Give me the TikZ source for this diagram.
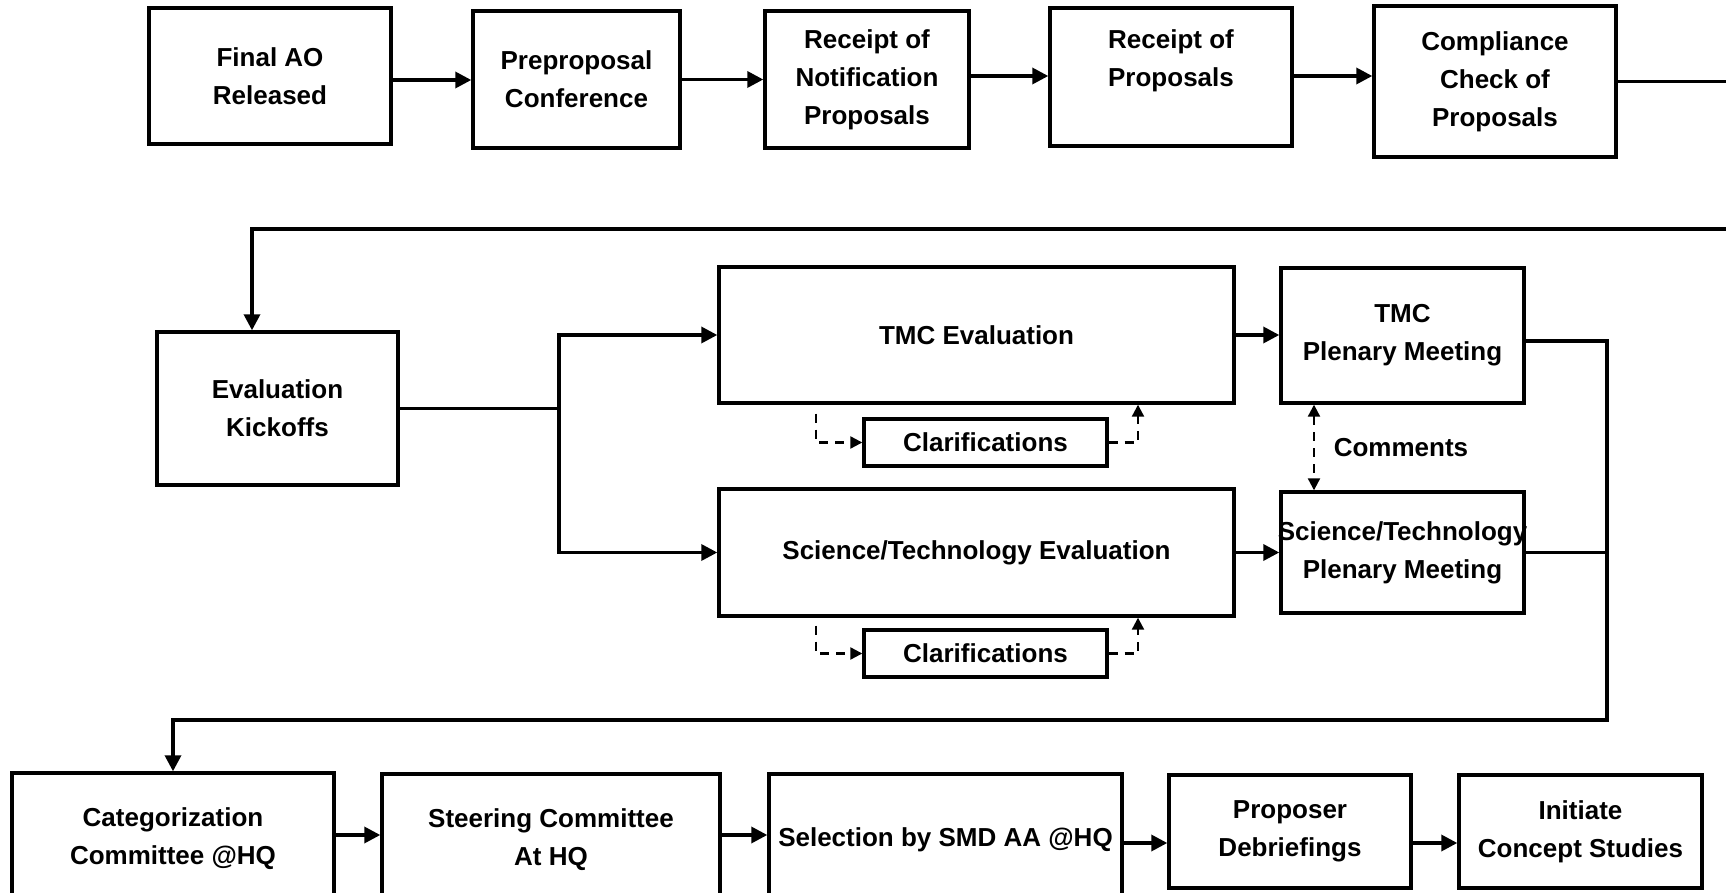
\documentclass[tikz,border=0pt]{standalone}
\usepackage{fontspec}
\setmainfont{Liberation Sans}
\usetikzlibrary{arrows.meta,calc}
\begin{document}
\begin{tikzpicture}[x=0.5pt,y=-0.5pt,
  box/.style={draw, line width=1.7pt, inner sep=0pt, align=center, font=\fontsize{13}{19}\selectfont\bfseries},
  arr/.style={line width=1.7pt, -{Triangle[length=8pt,width=8pt]}},
  ln/.style={line width=1.7pt},
  darr/.style={line width=1.1pt, dash pattern=on 4.5pt off 3.5pt, >={Triangle[length=6pt,width=6pt]}},
  lbl/.style={font=\fontsize{13}{19}\selectfont\bfseries}]
\useasboundingbox (0,0) rectangle (1726,893);
\clip (0,0) rectangle (1726,893);

% Row 1
\node[box, minimum width=121pt, minimum height=68pt] (fao) at (270,76) {Final AO\\Released};
\node[box, minimum width=103.5pt, minimum height=68.5pt] (pre) at (576.5,79.5) {Preproposal\\Conference};
\node[box, minimum width=102pt, minimum height=68.5pt] (rnp) at (867,79.5) {Receipt of\\Notification\\Proposals};
\node[box, minimum width=121pt, minimum height=69pt] (rp) at (1171,77) {Receipt of\\Proposals\\\mbox{}};
\node[box, minimum width=121pt, minimum height=75.5pt] (cc) at (1495,81.5) {Compliance\\Check of\\Proposals};

% Row 2
\node[box, minimum width=120.5pt, minimum height=76.5pt] (kick) at (277.5,408.5) {Evaluation\\Kickoffs};
\node[box, minimum width=257.5pt, minimum height=68pt] (tmce) at (976.5,335) {TMC Evaluation};
\node[box, minimum width=257.5pt, minimum height=63.5pt] (stie) at (976.5,552.5) {Science/Technology Evaluation};
\node[box, minimum width=121.5pt, minimum height=67.5pt] (tmcp) at (1402.5,335.5) {TMC\\Plenary Meeting};
\node[box, minimum width=121.5pt, minimum height=60.5pt] (stp) at (1402.5,552.5) {\makebox[100pt]{Science/Technology}\\Plenary Meeting};
\node[box, minimum width=121.5pt, minimum height=23.5pt] (cl1) at (985.5,442.5) {Clarifications};
\node[box, minimum width=121.5pt, minimum height=23.5pt] (cl2) at (985.5,653.5) {Clarifications};
\node[lbl] (cm) at (1401,448) {Comments};

% Row 3
\node[box, minimum width=161pt, minimum height=66pt] (cat) at (173,839) {Categorization\\Committee @HQ};
\node[box, minimum width=169pt, minimum height=65.5pt] (steer) at (551,839.5) {Steering Committee\\At HQ};
\node[box, minimum width=176.5pt, minimum height=65.5pt] (sel) at (945.5,839.5) {Selection by SMD AA @HQ};
\node[box, minimum width=121pt, minimum height=56.5pt] (prop) at (1290,831.5) {Proposer\\Debriefings};
\node[box, minimum width=121.5pt, minimum height=56.5pt] (init) at (1580.5,831.5) {Initiate\\Concept Studies};

% Row 1 connectors
\draw[arr] ($(fao.east)+(0,4)$) -- ($(fao.east -| pre.west)+(0,4)$);
\draw[arr] (pre.east) -- (pre.east -| rnp.west);
\draw[arr] ($(rnp.east)+(0,-3.5)$) -- ($(rnp.east -| rp.west)+(0,-3.5)$);
\draw[arr] ($(rp.east)+(0,-1)$) -- ($(rp.east -| cc.west)+(0,-1)$);
\coordinate (outR) at (1726,82);
\draw[ln] (cc.east) -- (cc.east -| outR);
\coordinate (inR) at (1726,229);
\draw[arr] (inR) -| ($(kick.north)+(-25.5,0)$);

% Row 2 connectors
\coordinate (br) at (559,408.5);
\draw[ln] (kick.east) -- (br);
\draw[arr] (br) |- (tmce.west);
\draw[arr] (br) |- (stie.west);
\draw[arr] (tmce.east) -- (tmce.east -| tmcp.west);
\draw[arr] (stie.east) -- (stie.east -| stp.west);
\draw[darr,<->] ($(tmcp.south)+(-88.5,0)$) -- ($(stp.north)+(-88.5,0)$);
\draw[darr,->] ($(tmce.south)+(-160.5,9)$) |- (cl1.west);
\draw[darr,->] (cl1.east) -| ($(tmce.south)+(161.5,0)$);
\draw[darr,->] ($(stie.south)+(-160.5,8)$) |- (cl2.west);
\draw[darr,->] (cl2.east) -| ($(stie.south)+(161.5,0)$);

% loop down to row 3
\coordinate (rc) at (1607,720);
\draw[arr] ($(tmcp.east)+(0,5.5)$) -| (rc) -| (cat.north);
\draw[ln] (stp.east) -- (stp.east -| rc);

% Row 3 connectors
\draw[arr] ($(cat.east)+(0,-4)$) -- ($(cat.east -| steer.west)+(0,-4)$);
\draw[arr] ($(steer.east)+(0,-4.5)$) -- ($(steer.east -| sel.west)+(0,-4.5)$);
\draw[arr] ($(sel.east)+(0,3.5)$) -- ($(sel.east -| prop.west)+(0,3.5)$);
\draw[arr] ($(prop.east)+(0,11.5)$) -- ($(prop.east -| init.west)+(0,11.5)$);
\end{tikzpicture}
\end{document}
